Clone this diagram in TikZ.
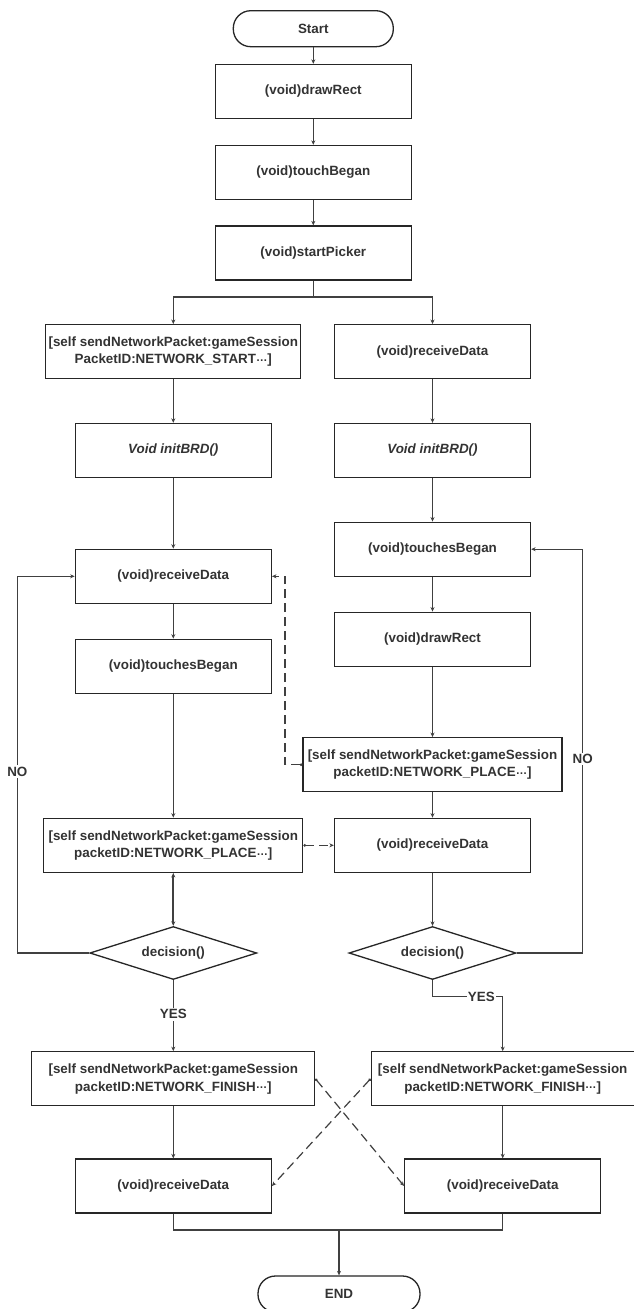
\documentclass[tikz,border=0pt]{standalone}
\usepackage{fontspec}
\setmainfont{Liberation Sans}
\usetikzlibrary{arrows.meta,shapes.geometric,calc}
\newcommand\mdots{\raisebox{.3ex}{\scalebox{.85}{\ldots}}}
\tikzset{
  txt/.style={font=\fontsize{13.4}{17.5}\selectfont\bfseries, text=black!80},
  box/.style={txt, draw=black!85, line width=1.3pt, rectangle, minimum height=54pt, minimum width=196pt, inner sep=0pt, align=center},
  term/.style={box, rounded corners=17.5pt, minimum height=36pt},
  dec/.style={txt, draw=black!85, line width=1.3pt, diamond, aspect=3.2, inner sep=0pt, minimum width=167pt, minimum height=53pt},
  conn/.style={draw=black!75, line width=1.3pt},
  arr/.style={conn, -{Stealth[length=4.5pt,width=4pt]}},
  dbl/.style={conn, line width=1.7pt, {Stealth[length=4.5pt,width=4pt]}-{Stealth[length=4.5pt,width=4pt]}},
  darr/.style={draw=black!75, line width=1.2pt, dash pattern=on 9pt off 5pt, {Circle[length=2.5pt]}-{Stealth[length=4.5pt,width=4pt]}},
  lab/.style={txt, fill=white, inner sep=1.5pt}
}
\begin{document}
\begin{tikzpicture}[x=1pt,y=-1pt]
\fill[white] (0,0) rectangle (634,1309);
\useasboundingbox (0,0) rectangle (634,1309);

% centre column
\node[term, minimum width=160pt] (start) at (313.3,28.7) {Start};
\node[box] (c1) at (313.3,91.5) {(void)drawRect};
\node[box] (c2) at (313.3,172.5) {(void)touchBegan};
\node[box] (c3) at (313.3,253) {(void)startPicker};

% left column
\node[box, minimum width=255pt] (l1) at (173.3,351.7) {[self sendNetworkPacket:gameSession\\PacketID:NETWORK\_START\mdots]};
\node[box, font=\fontsize{13.4}{17.5}\selectfont\bfseries\itshape] (l2) at (173.3,450.5) {Void initBRD()};
\node[box] (l3) at (173.3,576.3) {(void)receiveData};
\node[box] (l4) at (173.3,666.3) {(void)touchesBegan};
\node[box, minimum width=259pt] (l5) at (173.3,845.3) {[self sendNetworkPacket:gameSession\\packetID:NETWORK\_PLACE\mdots]};
\node[dec] (ld) at (173.3,953) {decision()};
\node[box, minimum width=283pt] (l7) at (173.3,1078.8) {[self sendNetworkPacket:gameSession\\packetID:NETWORK\_FINISH\mdots]};
\node[box] (l8) at (173.3,1186) {(void)receiveData};

% right column
\node[box] (r1) at (432.5,351.7) {(void)receiveData};
\node[box, font=\fontsize{13.4}{17.5}\selectfont\bfseries\itshape] (r2) at (432.5,450.5) {Void initBRD()};
\node[box] (r3) at (432.5,549.2) {(void)touchesBegan};
\node[box] (r4) at (432.5,639.2) {(void)drawRect};
\node[box, minimum width=259pt] (r5) at (432.5,764.7) {[self sendNetworkPacket:gameSession\\packetID:NETWORK\_PLACE\mdots]};
\node[box] (r6) at (432.5,845.3) {(void)receiveData};
\node[dec] (rd) at (432.5,953) {decision()};
\node[box, minimum width=263pt] (r7) at (502.7,1078.8) {[self sendNetworkPacket:gameSession\\packetID:NETWORK\_FINISH\mdots]};
\node[box] (r8) at (502.7,1186) {(void)receiveData};

\node[term, minimum width=162pt] (end) at (339,1294) {END};

% helper coordinates
\coordinate (sp) at (313.3,297);
\coordinate (nl) at (17.3,953);
\coordinate (nr) at (582.7,953);
\coordinate (yr) at (432.5,996.7);
\coordinate (m) at (339,1230);
\coordinate (dc) at (285,700);

% main flow
\draw[arr] (start) -- (c1);
\draw[arr] (c1) -- (c2);
\draw[arr] (c2) -- (c3);
\draw[conn] (c3.south) -- (sp);
\draw[arr] (sp) -| (l1.north);
\draw[arr] (sp) -| (r1.north);

\draw[arr] (l1) -- (l2);
\draw[arr] (l2) -- (l3);
\draw[arr] (l3) -- (l4);
\draw[arr] (l4) -- (l5);
\draw[dbl] (l5.south) -- (ld.north);
\draw[arr] (ld.west) -- (nl) |- (l3.west);
\node[lab] (nol) at (17.3,771.7) {NO};
\draw[arr] (ld.south) -- (l7.north);
\node[lab] (yesl) at (173.3,1014.3) {YES};
\draw[arr] (l7) -- (l8);

\draw[arr] (r1) -- (r2);
\draw[arr] (r2) -- (r3);
\draw[arr] (r3) -- (r4);
\draw[arr] (r4) -- (r5);
\draw[arr] (r5) -- (r6);
\draw[arr] (r6) -- (rd);
\draw[arr] (rd.east) -- (nr) |- (r3.east);
\node[lab] (nor) at (582.7,759) {NO};
\draw[arr] (rd.south) -- (yr) -| (r7.north);
\node[lab, inner sep=1pt] (yesr) at (481.3,996.7) {YES};
\draw[arr] (r7) -- (r8);

\draw[conn] (l8.south) |- (m);
\draw[conn] (r8.south) |- (m);
\draw[arr] (m) -- (end.north);

% dashed message links
\draw[darr] (r5.west) -| (dc |- l3.east) -- (l3.east);
\draw[darr] (l5.east) -- (r6.west);
\draw[darr] (l7.east) -- (r8.west);
\draw[darr] (r7.west) -- (l8.east);
\end{tikzpicture}
\end{document}
